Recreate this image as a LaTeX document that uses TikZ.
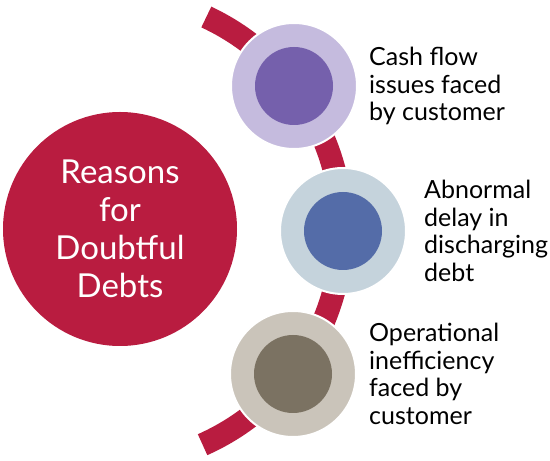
\documentclass[tikz,border=0pt]{standalone}
\usepackage{fontspec}
\setmainfont{Lato}
\definecolor{crim}{RGB}{185,28,64}
\definecolor{lavO}{RGB}{197,187,222}
\definecolor{lavI}{RGB}{117,96,172}
\definecolor{bluO}{RGB}{197,211,220}
\definecolor{bluI}{RGB}{84,108,168}
\definecolor{brnO}{RGB}{202,196,186}
\definecolor{brnI}{RGB}{123,114,98}
\begin{document}
\begin{tikzpicture}[x=1pt,y=1pt,
  outerc/.style={circle,draw=white,line width=2pt,minimum size=126pt,inner sep=0pt},
  innerc/.style={circle,minimum size=78pt,inner sep=0pt},
  lbl/.style={anchor=west,align=left,inner sep=0pt,font=\fontsize{25}{27.5}\selectfont,text=black}]
\useasboundingbox[fill=white] (0,0) rectangle (550,461);
% arc
\coordinate (arcc) at (107,231);
\draw[crim,line width=23pt] ([shift={(-66:235)}]arcc) arc[start angle=-66,end angle=65,radius=235];
% main circle
\node[circle,fill=crim,minimum size=234pt,inner sep=0pt,text=white,align=center,
  font=\fontsize{33}{38}\selectfont] (main) at (120,232) {Reasons\\for\\Doubtful\\Debts};
% item circles
\node[outerc,fill=lavO] (o1) at (294,375) {};
\node[innerc,fill=lavI] (i1) at (o1.center) {};
\node[outerc,fill=bluO] (o2) at (343,230) {};
\node[innerc,fill=bluI] (i2) at (o2.center) {};
\node[outerc,fill=brnO] (o3) at (293,87) {};
\node[innerc,fill=brnI] (i3) at (o3.center) {};
% labels
\node[lbl] (t1) at (369,375) {Cash flow\\issues faced\\by customer};
\node[lbl] (t2) at (424,230) {Abnormal\\delay in\\discharging\\debt};
\node[lbl] (t3) at (369,87) {Operational\\inefficiency\\faced by\\customer};
\end{tikzpicture}
\end{document}
